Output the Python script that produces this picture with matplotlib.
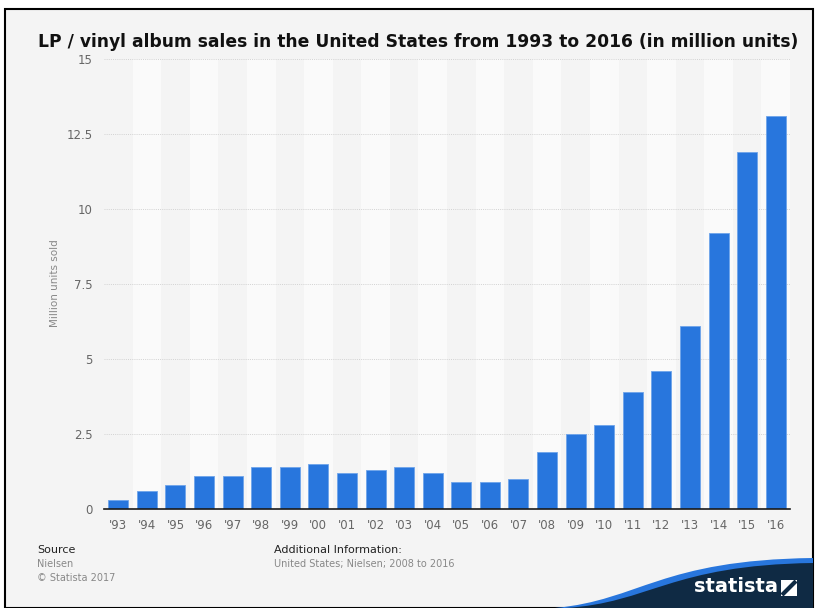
import matplotlib.pyplot as plt
from matplotlib.patches import Rectangle, PathPatch
from matplotlib.path import Path

# LP / vinyl album sales in the US, million units
years = ["'93", "'94", "'95", "'96", "'97", "'98", "'99", "'00", "'01", "'02", "'03", "'04",
         "'05", "'06", "'07", "'08", "'09", "'10", "'11", "'12", "'13", "'14", "'15", "'16"]
sales = [0.3, 0.6, 0.8, 1.1, 1.1, 1.4, 1.4, 1.5, 1.2, 1.3, 1.4, 1.2,
         0.9, 0.9, 1.0, 1.9, 2.5, 2.8, 3.9, 4.6, 6.1, 9.2, 11.9, 13.1]
yticks = [0, 2.5, 5, 7.5, 10, 12.5, 15]
ytick_labels = ['0', '2.5', '5', '7.5', '10', '12.5', '15']

bg = '#f4f4f4'
fig = plt.figure(figsize=(8.16, 6.08), dpi=100)
fig.patch.set_facecolor('white')

# page background + black frame
fig.patches.append(Rectangle((5 / 816, 0), 808 / 816, 599 / 608, transform=fig.transFigure,
                             facecolor=bg, edgecolor='black', linewidth=1.5, zorder=-10))

ax = fig.add_axes([104 / 816, 1 - 509 / 608, 686 / 816, 450 / 608])
ax.set_facecolor(bg)
x = list(range(len(years)))

# alternating column bands
for i in x:
    if i % 2 == 1:
        ax.axvspan(i - 0.5, i + 0.5, color='#fafafa', zorder=0, lw=0)

for t in yticks[1:]:
    ax.axhline(t, color='#d2d2d2', lw=0.7, ls=(0, (1, 1.2)), zorder=1)

ax.bar(x, sales, width=0.7, color='#2876dd', edgecolor='#6ea4ea', linewidth=0.6, zorder=3)

ax.set_xlim(-0.5, 23.5)
ax.set_ylim(0, 15)
ax.set_xticks(x)
ax.set_xticklabels(years)
ax.set_yticks(yticks)
ax.set_yticklabels(ytick_labels)
ax.tick_params(length=0, colors='#666666', labelsize=8.5)
ax.tick_params(axis='x', pad=7)
ax.tick_params(axis='y', pad=8)
for s in ['top', 'right', 'left']:
    ax.spines[s].set_visible(False)
ax.spines['bottom'].set_color('#1a1a1a')
ax.spines['bottom'].set_linewidth(1.2)
ax.spines['bottom'].set_zorder(4)

fig.text(55 / 816, 1 - 283 / 608, 'Million units sold', rotation=90, ha='center', va='center',
         fontsize=7.5, color='#888888')

fig.text(418 / 816, 1 - 42 / 608,
         'LP / vinyl album sales in the United States from 1993 to 2016 (in million units)',
         ha='center', va='center', fontsize=12.3, fontweight='bold', color='#111111')

# footer
fig.text(37 / 816, 1 - 550 / 608, 'Source', fontsize=8, color='#222222', va='center')
fig.text(37 / 816, 1 - 564 / 608, 'Nielsen', fontsize=7, color='#888888', va='center')
fig.text(37 / 816, 1 - 578 / 608, '\u00a9 Statista 2017', fontsize=7, color='#888888', va='center')
fig.text(274 / 816, 1 - 550 / 608, 'Additional Information:', fontsize=8, color='#222222', va='center')
fig.text(274 / 816, 1 - 564 / 608, 'United States; Nielsen; 2008 to 2016', fontsize=7,
         color='#888888', va='center')

# statista logo swoosh
def fx(px):
    return px / 816

def fy(py):
    return 1 - py / 608

blue = Path([(fx(555), fy(608)), (fx(640), fy(600)), (fx(660), fy(560)), (fx(813), fy(558)),
             (fx(813), fy(608)), (fx(555), fy(608))],
            [Path.MOVETO, Path.CURVE4, Path.CURVE4, Path.CURVE4, Path.LINETO, Path.CLOSEPOLY])
fig.patches.append(PathPatch(blue, transform=fig.transFigure, facecolor='#2876dd',
                             edgecolor='none', zorder=1))
navy = Path([(fx(565), fy(608)), (fx(650), fy(603)), (fx(670), fy(565)), (fx(813), fy(563)),
             (fx(813), fy(608)), (fx(565), fy(608))],
            [Path.MOVETO, Path.CURVE4, Path.CURVE4, Path.CURVE4, Path.LINETO, Path.CLOSEPOLY])
fig.patches.append(PathPatch(navy, transform=fig.transFigure, facecolor='#0f2a44',
                             edgecolor='none', zorder=2))
fig.text(fx(736), fy(587), 'statista', fontsize=14, fontweight='bold', color='white',
         ha='center', va='center', zorder=5)
fig.patches.append(Rectangle((fx(781), fy(596)), 16 / 816, 16 / 608, transform=fig.transFigure,
                             facecolor='white', edgecolor='none', zorder=5))
slash = Path([(fx(782), fy(595)), (fx(796), fy(581))], [Path.MOVETO, Path.LINETO])
fig.patches.append(PathPatch(slash, transform=fig.transFigure, edgecolor='#0f2a44',
                             lw=3, zorder=6))

fig.savefig('out.png', dpi=100, facecolor=fig.get_facecolor())
